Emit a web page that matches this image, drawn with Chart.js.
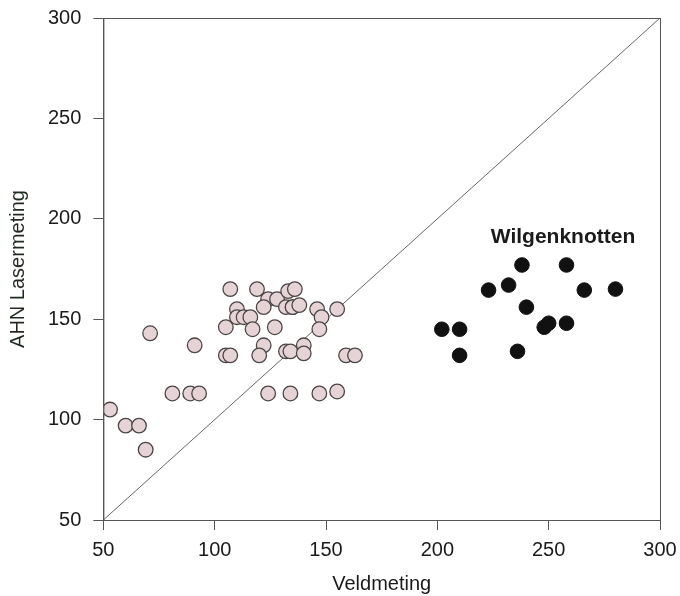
<!DOCTYPE html>
<html>
<head>
<meta charset="utf-8">
<script src="https://cdn.jsdelivr.net/npm/chart.js@4.4.1/dist/chart.umd.min.js"></script>
<style>
  html, body { margin: 0; padding: 0; background: #fff; }
  #wrap { width: 680px; height: 596px; }
</style>
</head>
<body>
<div id="wrap"><canvas id="chart" width="680" height="596"></canvas></div>
<script>
// Veldmeting (x) vs AHN Lasermeting (y)
const otherX = [53, 60, 66, 69, 71, 81, 89, 93, 91, 107, 119, 124, 128, 122, 132, 135,
                110, 110, 113, 116, 105, 117, 127, 105, 107, 122, 120, 132, 133, 136,
                135, 138, 146, 148, 155, 147, 140, 134, 140, 159, 163, 124, 134, 147, 155];
const otherY = [105, 97, 97, 85, 143, 113, 113, 113, 137, 165, 165, 160, 160, 156, 156, 156,
                155, 151, 151, 151, 146, 145, 146, 132, 132, 137, 132, 134, 164, 165,
                156, 157, 155, 151, 155, 145, 137, 134, 133, 132, 132, 113, 113, 113, 114];

const wilgX = [238, 258, 223, 232, 266, 280, 240, 248, 250, 258, 202, 210, 210, 236];
const wilgY = [177, 177, 164.5, 167, 164.5, 165, 156, 146, 148, 148, 145, 145, 132, 134];

const diagX = [50, 300];
const diagY = [50, 300];

const axisTicks = [50, 100, 150, 200, 250, 300];
const groupLabel = 'Wilgenknotten';

const toPoints = (xs, ys) => xs.map((x, i) => ({ x: x, y: ys[i] }));

// frame on top and right, plus the group label
const framePlugin = {
    id: 'frame',
    afterDatasetsDraw(chart) {
        const { ctx, chartArea, scales } = chart;
        ctx.save();
        ctx.strokeStyle = '#555';
        ctx.lineWidth = 1;
        ctx.strokeRect(chartArea.left + 0.5, chartArea.top + 0.5,
                       chartArea.right - chartArea.left, chartArea.bottom - chartArea.top);
        ctx.fillStyle = '#1a1a1a';
        ctx.font = 'bold 21px "Liberation Sans", Arial, sans-serif';
        ctx.textBaseline = 'alphabetic';
        ctx.fillText(groupLabel, scales.x.getPixelForValue(224), scales.y.getPixelForValue(188));
        ctx.restore();
    }
};

const tickFont = { family: '"Liberation Sans", Arial, sans-serif', size: 20 };
const titleFont = { family: '"Liberation Sans", Arial, sans-serif', size: 20 };

new Chart(document.getElementById('chart'), {
    type: 'scatter',
    data: {
        datasets: [
            {
                label: 'diagonaal',
                data: toPoints(diagX, diagY),
                showLine: true,
                borderColor: '#666',
                borderWidth: 1,
                pointRadius: 0,
                order: 3
            },
            {
                label: 'overig',
                data: toPoints(otherX, otherY),
                backgroundColor: '#e6d3d6',
                borderColor: '#4a4545',
                borderWidth: 1.3,
                pointRadius: 7.3,
                order: 2
            },
            {
                label: groupLabel,
                data: toPoints(wilgX, wilgY),
                backgroundColor: '#111',
                borderColor: '#111',
                borderWidth: 1,
                pointRadius: 7.3,
                order: 1
            }
        ]
    },
    options: {
        responsive: false,
        animation: false,
        layout: { padding: { left: 2, right: 20, top: 18, bottom: 0 } },
        plugins: {
            legend: { display: false },
            tooltip: { enabled: false }
        },
        scales: {
            x: {
                type: 'linear',
                min: 50,
                max: 300,
                afterBuildTicks: axis => { axis.ticks = axisTicks.map(v => ({ value: v })); },
                afterFit: axis => { axis.paddingRight = 0; axis.paddingLeft = 0; },
                grid: { drawOnChartArea: false, tickLength: 10, color: '#555' },
                border: { color: '#555' },
                ticks: { color: '#1a1a1a', font: tickFont, padding: 8 },
                title: { display: true, text: 'Veldmeting', color: '#1a1a1a', font: titleFont, padding: { top: 2, bottom: 0 } }
            },
            y: {
                type: 'linear',
                min: 50,
                max: 300,
                afterBuildTicks: axis => { axis.ticks = axisTicks.map(v => ({ value: v })); },
                afterFit: axis => { axis.paddingTop = 0; axis.paddingBottom = 0; },
                grid: { drawOnChartArea: false, tickLength: 10, color: '#555' },
                border: { color: '#555' },
                ticks: { color: '#1a1a1a', font: tickFont, padding: 12 },
                title: { display: true, text: 'AHN Lasermeting', color: '#1f2b1f', font: titleFont, padding: { bottom: 6 } }
            }
        }
    },
    plugins: [framePlugin]
});
</script>
</body>
</html>
